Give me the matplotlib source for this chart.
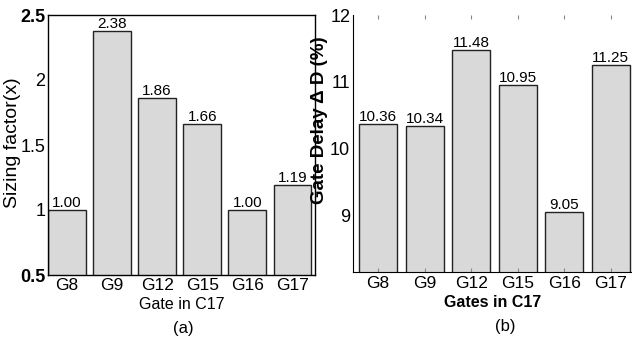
import matplotlib.pyplot as plt
import numpy as np

plt.rcParams['font.family'] = ['Liberation Sans', 'DejaVu Sans']

gates = ['G8', 'G9', 'G12', 'G15', 'G16', 'G17']
sizing = [1.00, 2.38, 1.86, 1.66, 1.00, 1.19]
sizing_labels = ['1.00', '2.38', '1.86', '1.66', '1.00', '1.19']
delay = [10.36, 10.34, 11.48, 10.95, 9.05, 11.25]
delay_labels = ['10.36', '10.34', '11.48', '10.95', '9.05', '11.25']

W, H = 632, 346
fig = plt.figure(figsize=(W / 100, H / 100), dpi=100)

bar_col = '#d9d9d9'

# (a) sizing factor
ax1 = fig.add_axes([48 / W, 1 - 275 / H, (315 - 48) / W, 260 / H])
x = np.arange(len(gates))
ax1.bar(x, sizing, width=0.84, bottom=0, color=bar_col, edgecolor='#222222', linewidth=1)
for xi, v, s in zip(x, sizing, sizing_labels):
    ax1.text(xi, v, s, ha='center', va='bottom', fontsize=11)
ax1.set_xlim(-0.42, 5.5)
ax1.set_ylim(0.5, 2.5)
ax1.set_yticks([0.5, 1, 1.5, 2, 2.5])
ax1.set_yticklabels(['0.5', '1', '1.5', '2', '2.5'], fontsize=13)
for lab in (ax1.get_yticklabels()[0], ax1.get_yticklabels()[-1]):
    lab.set_fontweight('bold')
ax1.set_xticks(x)
ax1.set_xticklabels(gates, fontsize=12.5)
ax1.tick_params(axis='both', length=0, pad=2)
ax1.set_ylabel('Sizing factor(x)', fontsize=14)
ax1.yaxis.set_label_coords(-0.1, 0.51)
ax1.set_xlabel('Gate in C17', fontsize=11.5, labelpad=3)
fig.text(183 / W, 1 - 328 / H, '(a)', ha='center', va='center', fontsize=12)
for sp in ax1.spines.values():
    sp.set_linewidth(1)

# (b) gate delay
ax2 = fig.add_axes([353 / W, 1 - 272 / H, (632 - 353) / W, 257 / H])
ax2.bar(x, delay, width=0.82, bottom=0, color=bar_col, edgecolor='#222222', linewidth=1)
for xi, v, s in zip(x, delay, delay_labels):
    ax2.text(xi, v, s, ha='center', va='bottom', fontsize=11)
ax2.set_xlim(-0.54, 5.46)
ax2.set_ylim(8.15, 12)
ax2.set_yticks([9, 10, 11, 12])
ax2.set_yticklabels(['9', '10', '11', '12'], fontsize=13)
ax2.set_xticks(x)
ax2.set_xticklabels(gates, fontsize=12.5)
ax2.tick_params(axis='both', length=0, pad=2)
ax2.tick_params(axis='x', top=True, length=3, color='#888888', direction='in', pad=3)
ax2.spines['top'].set_visible(False)
ax2.spines['right'].set_visible(False)
ax2.set_ylabel('Gate Delay \u0394 D (%)', fontsize=13.5, fontweight='bold')
ax2.yaxis.set_label_coords(-0.088, 0.59)
ax2.set_xlabel('Gates in C17', fontsize=11.5, fontweight='bold', labelpad=3)
fig.text(505 / W, 1 - 327 / H, '(b)', ha='center', va='center', fontsize=12)

fig.savefig('out.png', dpi=100)
